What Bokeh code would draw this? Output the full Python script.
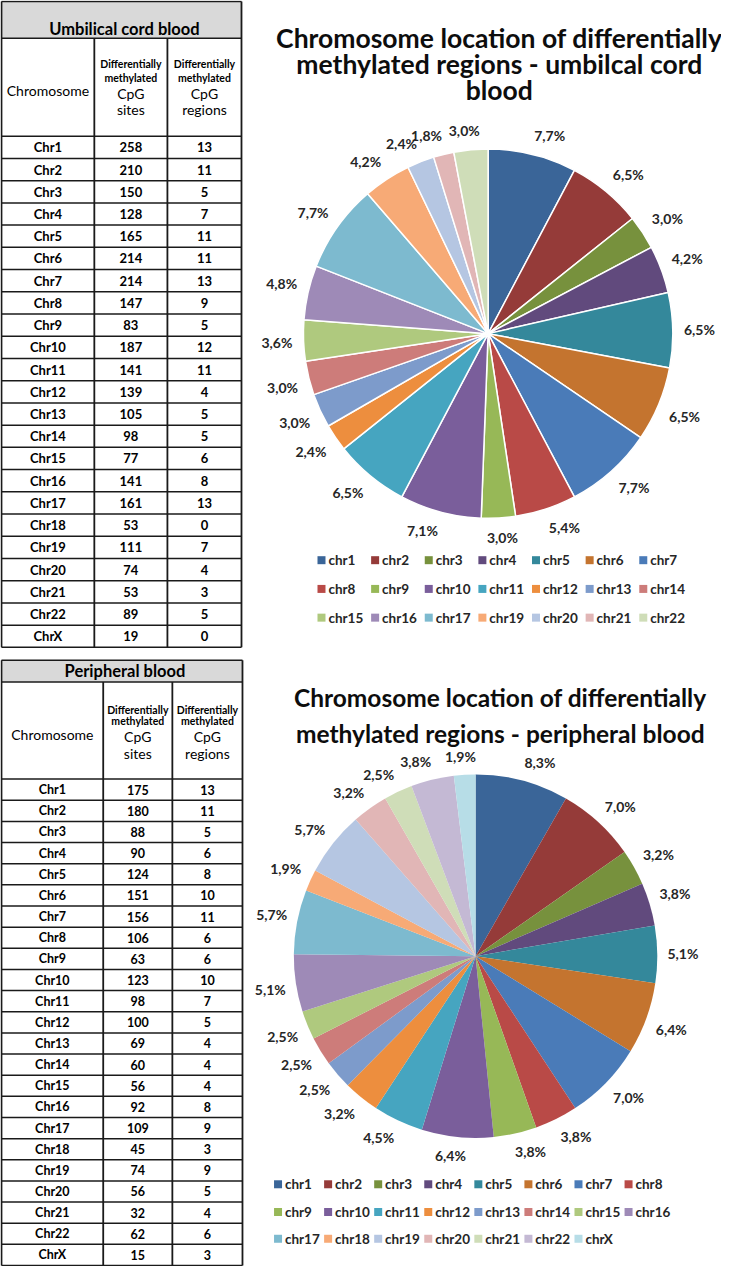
import numpy as np
from bokeh.plotting import figure
from bokeh.models import Range1d
from bokeh.core.properties import value
from bokeh.embed import file_html
from bokeh.resources import INLINE

# ---------------- data ----------------
chromosomes = ["Chr1", "Chr2", "Chr3", "Chr4", "Chr5", "Chr6", "Chr7", "Chr8", "Chr9", "Chr10",
               "Chr11", "Chr12", "Chr13", "Chr14", "Chr15", "Chr16", "Chr17", "Chr18", "Chr19",
               "Chr20", "Chr21", "Chr22", "ChrX"]
cord_sites = [258, 210, 150, 128, 165, 214, 214, 147, 83, 187, 141, 139, 105, 98, 77, 141, 161, 53, 111, 74, 53, 89, 19]
cord_regions = [13, 11, 5, 7, 11, 11, 13, 9, 5, 12, 11, 4, 5, 5, 6, 8, 13, 0, 7, 4, 3, 5, 0]
pb_sites = [175, 180, 88, 90, 124, 151, 156, 106, 63, 123, 98, 100, 69, 60, 56, 92, 109, 45, 74, 56, 32, 62, 15]
pb_regions = [13, 11, 5, 6, 8, 10, 11, 6, 6, 10, 7, 5, 4, 4, 4, 8, 9, 3, 9, 5, 4, 6, 3]

cord_table_title = "Umbilical cord blood"
pb_table_title = "Peripheral blood"
cord_pie_title = ["Chromosome location of differentially", "methylated regions - umbilcal cord", "blood"]
pb_pie_title = ["Chromosome location of differentially", "methylated regions - peripheral blood"]

palette = ["#3A6598", "#953B39", "#77913D", "#614A7D", "#34889B", "#C4742F",
           "#4A7BB8", "#B94A47", "#97B857", "#7A5E9B", "#46A5C0", "#ED8E3E",
           "#7D9BCB", "#CD7C7A", "#AFC97E", "#9E8AB7", "#7DBACF", "#F7AA76",
           "#B5C6E2", "#E1B6B6", "#CFDDB8", "#C4B9D4", "#B7DDE7"]

FONT = value("Lato")

# ---------------- figure (data units = reference pixels, y downward negated) ----------------
p = figure(width=721, height=1266, x_range=Range1d(4, 734), y_range=Range1d(-1280, -2),
           output_backend="svg", toolbar_location=None, min_border=0,
           x_axis_location=None, y_axis_location=None)
p.grid.visible = False
p.outline_line_color = None
p.background_fill_color = "white"
p.border_fill_color = "white"


def txt(xs, ys, texts, size, bold=True, align="center", color="#000000", baseline="middle"):
    p.text(x=list(xs), y=[-v for v in ys], text=list(texts), text_font=FONT,
           text_font_size=size, text_font_style="bold" if bold else "normal",
           text_align=align, text_baseline=baseline, text_color=color)


def draw_table(x0, x1, c1, c2, y_top, y_head, y_sub, y_bot, title, title_y,
               sub_ys, chrom_y, sites, regions, row_font):
    n = len(chromosomes)
    p.quad(left=x0, right=x1, top=-y_top, bottom=-y_head, fill_color="#D9D9D9", line_color=None)
    rh = (y_bot - y_sub) / n
    hy = [y_top, y_head, y_sub] + [y_sub + rh * (i + 1) for i in range(n)]
    p.segment(x0=[x0] * len(hy), x1=[x1] * len(hy), y0=[-v for v in hy], y1=[-v for v in hy],
              line_color="#1a1a1a", line_width=1.5)
    p.segment(x0=[x0, x1, c1, c2], x1=[x0, x1, c1, c2],
              y0=[-y_top, -y_top, -y_head, -y_head], y1=[-y_bot] * 4,
              line_color="#1a1a1a", line_width=1.8)
    txt([(x0 + x1) / 2 + 3], [title_y], [title], "16.5px", bold=True)
    m1, m2, m3 = (x0 + c1) / 2, (c1 + c2) / 2, (c2 + x1) / 2
    txt([m1], [chrom_y], ["Chromosome"], "14px", bold=False)
    txt([m2, m3, m2, m3], [sub_ys[0], sub_ys[0], sub_ys[1], sub_ys[1]],
        ["Differentially", "Differentially", "methylated", "methylated"], "10.5px", bold=True)
    txt([m2, m3, m2, m3], [sub_ys[2], sub_ys[2], sub_ys[3], sub_ys[3]],
        ["CpG", "CpG", "sites", "regions"], "14px", bold=False)
    ys = [y_sub + rh * (i + 0.5) for i in range(n)]
    txt([m1] * n, ys, chromosomes, row_font)
    txt([m2] * n, ys, [str(v) for v in sites], row_font)
    txt([m3] * n, ys, [str(v) for v in regions], row_font)


def draw_pie(cx, cy, r, names, vals, colors, gap, line_color, line_width):
    vals = np.asarray(vals, dtype=float)
    frac = vals / vals.sum()
    cum = np.concatenate([[0.0], np.cumsum(frac)])
    start = np.pi / 2 - 2 * np.pi * cum[1:]
    end = np.pi / 2 - 2 * np.pi * cum[:-1]
    p.wedge(x=cx, y=-cy, radius=r, start_angle=list(start), end_angle=list(end),
            direction="anticlock", fill_color=colors, line_color=line_color, line_width=line_width)
    mid = (cum[:-1] + cum[1:]) / 2 * 2 * np.pi
    dx, dy = np.sin(mid), -np.cos(mid)
    R = r + gap
    lx = cx + R * dx + 15 * np.clip(4 * dx, -1, 1)
    ly = cy + R * dy + 7 * np.clip(4 * dy, -1, 1)
    labels = [("%.1f" % (100 * f)).replace(".", ",") + "%" for f in frac]
    txt(lx, ly, labels, "14px", bold=True, color="#262626")


def draw_legend(names, colors, x_first, step, ncols, row_ys):
    xs, ys, tx = [], [], []
    for i in range(len(names)):
        col, row = i % ncols, i // ncols
        xs.append(x_first + col * step + 4)
        ys.append(row_ys[row])
        tx.append(x_first + col * step + 11)
    p.scatter(x=xs, y=[-v for v in ys], marker="square", size=8, fill_color=colors, line_color=None)
    txt(tx, ys, names, "13.5px", bold=True, align="left", color="#262626")


# ---------------- tables ----------------
draw_table(5, 248, 99, 173, 3, 40, 139, 655, cord_table_title, 31,
           [66, 80, 96, 112], 93, cord_sites, cord_regions, "13px")
draw_table(5, 249, 108, 178, 668, 690, 788, 1279, pb_table_title, 679,
           [718, 729, 745, 762], 743, pb_sites, pb_regions, "12.5px")

# ---------------- pie 1 (umbilical cord blood) ----------------
cord_names = ["chr" + c[3:] for c, v in zip(chromosomes, cord_regions) if v > 0]
cord_vals = [v for v in cord_regions if v > 0]
cord_cols = palette[:len(cord_vals)]
txt([509] * 3, [40, 66, 92], cord_pie_title, "26.5px", bold=True, color="#0d0d0d")
draw_pie(497.7, 338.3, 187, cord_names, cord_vals, cord_cols, 12, "white", 1.5)
draw_legend(cord_names, cord_cols, 325, 54.3, 7, [567, 596, 625])

# ---------------- pie 2 (peripheral blood) ----------------
pb_names = ["chr" + c[3:] for c, v in zip(chromosomes, pb_regions) if v > 0]
pb_vals = [v for v in pb_regions if v > 0]
pb_cols = palette[:len(pb_vals)]
txt([510] * 2, [706, 742], pb_pie_title, "24.5px", bold=True, color="#0d0d0d")
draw_pie(485, 966.7, 184, pb_names, pb_vals, pb_cols, 11, None, 0)
draw_legend(pb_names, pb_cols, 281, 50.7, 8, [1197, 1225, 1252])

open("out.html", "w").write(file_html(p, INLINE))
